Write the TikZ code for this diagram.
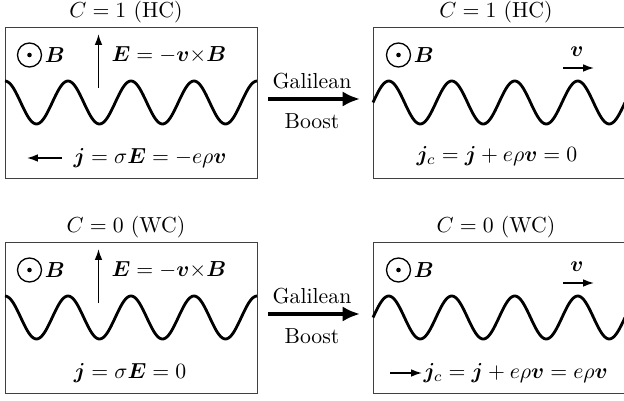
\documentclass[tikz,border=0pt]{standalone}
\usepackage{amsmath,bm}
\usetikzlibrary{arrows.meta}
\tikzset{
  panel/.style={draw=black!75, line width=0.5pt, minimum width=252*0.46pt, minimum height=151*0.46pt, inner sep=0pt, anchor=north west},
  wave/.style={line width=1.3pt, line join=round},
  smallarrow/.style={line width=0.7pt, -{Latex[length=5pt,width=3.5pt]}},
  bigarrow/.style={line width=2pt, -{Latex[length=8pt,width=7pt]}},
  dotcirc/.style={circle, draw, line width=0.6pt, minimum size=24*0.46pt, inner sep=0pt},
  lbl/.style={inner sep=1pt}
}
\begin{document}
\begin{tikzpicture}[x=0.46pt,y=-0.46pt]
\useasboundingbox (0,0) rectangle (624,401);
\foreach \dy/\cval/\nm in {0/{1 \text{ (HC)}}/t,215/{0 \text{ (WC)}}/b}{
  \node[panel] (L\nm) at (5,27+\dy) {};
  \node[panel] (R\nm) at (373,27+\dy) {};
  \node[lbl] (CL\nm) at (126,12+\dy) {$C=\cval$};
  \node[lbl] (CR\nm) at (496,12+\dy) {$C=\cval$};
  \draw[wave] plot[domain=5:257, samples=160, smooth] (\x, {102.5+\dy-21.5*cos((\x-5)/63*360)});
  \draw[wave] plot[domain=373:625, samples=160, smooth] (\x, {102.5+\dy-21.5*sin((\x-373)/63*360)});
  \node[dotcirc] (cl\nm) at (29.5,55+\dy) {};
  \fill (cl\nm.center) circle (2.3);
  \node[lbl, anchor=west] (Bl\nm) at (cl\nm.east) {$\bm{B}$};
  \node[dotcirc] (cr\nm) at (398.5,55+\dy) {};
  \fill (cr\nm.center) circle (2.3);
  \node[lbl, anchor=west] (Br\nm) at (cr\nm.east) {$\bm{B}$};
  \coordinate (Ea\nm) at (98.5,88+\dy);
  \coordinate (Eb\nm) at (98.5,34+\dy);
  \draw[smallarrow] (Ea\nm) -- (Eb\nm);
  \node[lbl, anchor=west] (E\nm) at (109,55+\dy) {$\bm{E}=-\bm{v}{\times}\bm{B}$};
  \coordinate (va\nm) at (563,68+\dy);
  \coordinate (vb\nm) at (594,68+\dy);
  \draw[smallarrow] (va\nm) -- (vb\nm);
  \node[lbl] (v\nm) at (577,52+\dy) {$\bm{v}$};
  \coordinate (ga\nm) at (268,99+\dy);
  \coordinate (gb\nm) at (360,99+\dy);
  \draw[bigarrow] (ga\nm) -- (gb\nm);
  \node[lbl] (gal\nm) at (312,81+\dy) {Galilean};
  \node[lbl] (bst\nm) at (312,121+\dy) {Boost};
}
\node[lbl, anchor=west] (jt) at (71,158) {$\bm{j}=\sigma\bm{E}=-e\rho\bm{v}$};
\coordinate (jta) at (62,158);
\coordinate (jtb) at (27,158);
\draw[smallarrow] (jta) -- (jtb);
\node[lbl] (jct) at (497,156) {$\bm{j}_c=\bm{j}+e\rho\bm{v}=0$};
\node[lbl] (jb) at (130,373) {$\bm{j}=\sigma\bm{E}=0$};
\coordinate (jba) at (390,373);
\coordinate (jbb) at (422,373);
\draw[smallarrow] (jba) -- (jbb);
\node[lbl, anchor=west] (jcb) at (421,373) {$\bm{j}_c=\bm{j}+e\rho\bm{v}=e\rho\bm{v}$};
\end{tikzpicture}
\end{document}
